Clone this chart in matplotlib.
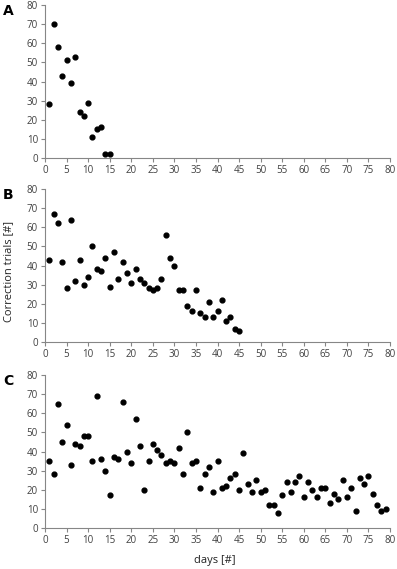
import matplotlib
matplotlib.use('Agg')
from matplotlib import pyplot as plt
import numpy as np

# Dados
dias_A = np.arange(1, 16)
valores_A = [28, 70, 58, 43, 51, 39, 53, 24, 22, 29, 11, 15, 16, 2, 2]

dias_B = np.arange(1, 46)
valores_B = [43, 67, 62, 42, 28, 64, 32, 43, 30, 34, 50, 38, 37, 44, 29,
             47, 33, 42, 36, 31, 38, 33, 31, 28, 27, 28, 33, 56, 44, 40,
             27, 27, 19, 16, 27, 15, 13, 21, 13, 16, 22, 11, 13, 7, 6]

dias_C = np.arange(1, 80)
valores_C = [35, 28, 65, 45, 54, 33, 44, 43, 48, 48, 35, 69, 36, 30, 17,
             37, 36, 66, 40, 34, 57, 43, 20, 35, 44, 41, 38, 34, 35, 34,
             42, 28, 50, 34, 35, 21, 28, 32, 19, 35, 21, 22, 26, 28, 20,
             39, 23, 19, 25, 19, 20, 12, 12, 8, 17, 24, 19, 24, 27, 16,
             24, 20, 16, 21, 21, 13, 18, 15, 25, 16, 21, 9, 26, 23, 27,
             18, 12, 9, 10]

paineis = [('A', dias_A, valores_A), ('B', dias_B, valores_B), ('C', dias_C, valores_C)]

fig = plt.figure(figsize=(3.97, 5.69), dpi=100)
plt.rcParams['font.family'] = ['Open Sans', 'DejaVu Sans']

esq, larg, alt = 45/397, 345/397, 153/569
topos = [5, 189, 375]
cor_eixo = '#868686'
cor_texto = '#404040'

for (letra, x, y), topo in zip(paineis, topos):
    base = 1 - (topo + 153)/569
    ax = fig.add_axes([esq, base, larg, alt])
    ax.scatter(x, y, s=12, color='black', zorder=3)
    ax.set_xlim(0, 80)
    ax.set_ylim(0, 80)
    ax.set_xticks(np.arange(0, 81, 5))
    ax.set_yticks(np.arange(0, 81, 10))
    for lado in ['top', 'right']:
        ax.spines[lado].set_visible(False)
    for lado in ['left', 'bottom']:
        ax.spines[lado].set_color(cor_eixo)
        ax.spines[lado].set_linewidth(0.8)
    ax.tick_params(direction='out', length=3, width=0.8, color=cor_eixo,
                   labelsize=7, labelcolor=cor_texto, pad=2)
    ax.set_clip_on(False)
    fig.text(3/397, 1 - (topo - 1)/569, letra, fontsize=10, fontweight='bold',
             va='top', ha='left', family='DejaVu Sans')

fig.text(9/397, 1 - 271/569, 'Correction trials [#]', rotation=90,
         fontsize=8, color='#222222', ha='center', va='center')
fig.text(215/397, 1 - 561/569, 'days [#]', fontsize=8, color='#222222',
         ha='center', va='center')

fig.savefig('out.png', dpi=100)
